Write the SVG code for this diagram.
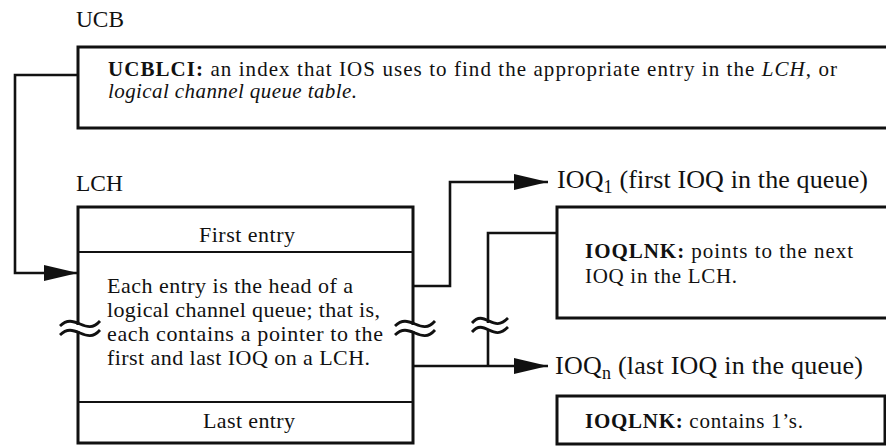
<svg xmlns="http://www.w3.org/2000/svg" width="886" height="446" viewBox="0 0 886 446">
<style>
text{font-family:"Liberation Serif","Times New Roman",serif;fill:#111}
.lbl{font-size:23px}
.big{font-size:26px}
.t19{font-size:21px}
.t20{font-size:22px}
.b{font-weight:bold}
.i{font-style:italic}
.box{fill:#fff;stroke:#111;stroke-width:3}
.div{stroke:#111;stroke-width:2.2;fill:none}
.con{fill:none;stroke:#111;stroke-width:2.6}
.wave{fill:none;stroke:#111;stroke-width:2.8}
</style>
<defs>
<marker id="ah" viewBox="0 0 34 16" refX="34" refY="8" markerWidth="34" markerHeight="16" markerUnits="userSpaceOnUse" orient="auto">
<path d="M0,0 L34,8 L0,16 z" fill="#111"/>
</marker>
</defs>

<g id="ucb">
<text class="lbl" x="76" y="27" textLength="48" lengthAdjust="spacingAndGlyphs">UCB</text>
<rect class="box" x="78" y="47" width="830" height="81"/>
<text class="t19" x="108" y="76" textLength="729" lengthAdjust="spacing"><tspan class="b">UCBLCI:</tspan>  an index that IOS uses to find the appropriate entry in the <tspan class="i">LCH</tspan>, or</text>
<text class="t19 i" x="108" y="98" textLength="249" lengthAdjust="spacing">logical channel queue table.</text>
</g>

<g id="lch">
<text class="lbl" x="76" y="191" textLength="47" lengthAdjust="spacingAndGlyphs">LCH</text>
<rect class="box" x="78" y="207" width="335" height="236"/>
<line class="div" x1="78" y1="252" x2="413" y2="252"/>
<line class="div" x1="78" y1="402" x2="413" y2="402"/>
<text class="t20" x="199" y="242" textLength="96" lengthAdjust="spacing">First entry</text>
<text class="t20" x="107" y="293" textLength="246" lengthAdjust="spacing">Each entry is the head of a</text>
<text class="t20" x="107" y="317" textLength="273" lengthAdjust="spacing">logical channel queue; that is,</text>
<text class="t20" x="107" y="341" textLength="276" lengthAdjust="spacing">each contains a pointer to the</text>
<text class="t20" x="107" y="365" textLength="263" lengthAdjust="spacing">first and last IOQ on a LCH.</text>
<text class="t20" x="203" y="428" textLength="92" lengthAdjust="spacing">Last entry</text>
</g>

<g id="ioq1">
<text class="big" x="557" y="188" textLength="311" lengthAdjust="spacing">IOQ<tspan font-size="18" dy="5">1</tspan><tspan dy="-5"> (first IOQ in the queue)</tspan></text>
<rect class="box" x="557" y="207" width="340" height="111"/>
<text class="t19" x="585" y="258" textLength="268" lengthAdjust="spacing"><tspan class="b">IOQLNK:</tspan>  points to the next</text>
<text class="t19" x="585" y="283" textLength="152" lengthAdjust="spacing">IOQ in the LCH.</text>
</g>

<g id="ioqn">
<text class="big" x="555" y="374" textLength="308" lengthAdjust="spacing">IOQ<tspan font-size="18" dy="5">n</tspan><tspan dy="-5"> (last IOQ in the queue)</tspan></text>
<rect class="box" x="557" y="396" width="328" height="48"/>
<text class="t19" x="585" y="428" textLength="218" lengthAdjust="spacing"><tspan class="b">IOQLNK:</tspan>  contains 1’s.</text>
</g>

<g id="connectors">
<path class="con" d="M78,75 H15 V273 H78" marker-end="url(#ah)"/>
<path class="con" d="M413,286 H450 V182 H548" marker-end="url(#ah)"/>
<path class="con" d="M413,366 H548" marker-end="url(#ah)"/>
<path class="con" d="M557,233 H488 V366"/>
</g>

<g id="breaks">
<rect x="72" y="325" width="12" height="6" fill="#fff"/>
<path class="wave" d="M60,326 C67,319 73,321 80,324 S93,329 100,321"/>
<path class="wave" d="M60,335 C67,328 73,330 80,333 S93,338 100,330"/>
<rect x="407" y="325" width="12" height="6" fill="#fff"/>
<path class="wave" d="M395,326 C402,319 408,321 415,324 S428,329 435,321"/>
<path class="wave" d="M395,335 C402,328 408,330 415,333 S428,338 435,330"/>
<rect x="482" y="323" width="12" height="6" fill="#fff"/>
<path class="wave" d="M472,323 C478,316 483,318 489,321 S500,326 508,318"/>
<path class="wave" d="M472,332 C478,325 483,327 489,330 S500,335 508,327"/>
</g>
</svg>
